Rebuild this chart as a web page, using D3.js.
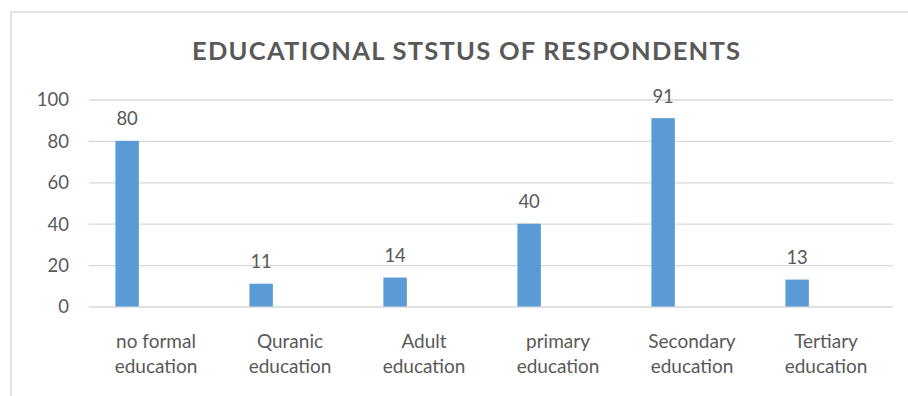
<!DOCTYPE html>
<html>
<head>
<meta charset="utf-8">
<script src="https://cdn.jsdelivr.net/npm/d3@7"></script>
<style>
  html, body { margin: 0; padding: 0; background: #fff; }
  svg { display: block; }
  text { font-family: Lato, "Liberation Sans", sans-serif; fill: #595959; }
</style>
</head>
<body>
<svg id="chart" width="908" height="396"></svg>
<script>
const title = "EDUCATIONAL STSTUS OF RESPONDENTS";
const categories = [
  ["no formal", "education"],
  ["Quranic", "education"],
  ["Adult", "education"],
  ["primary", "education"],
  ["Secondary", "education"],
  ["Tertiary", "education"]
];
const values = [80, 11, 14, 40, 91, 13];
const yTicks = [0, 20, 40, 60, 80, 100];

const svg = d3.select("#chart");
const W = 908, H = 396;
const plot = { left: 89, right: 893, top: 99.5, bottom: 306.5 };

// chart frame
svg.append("rect")
  .attr("x", 11).attr("y", 12)
  .attr("width", W + 20).attr("height", H + 20)
  .attr("fill", "none").attr("stroke", "#d9d9d9").attr("stroke-width", 1.5);

const x = d3.scaleBand()
  .domain(d3.range(categories.length))
  .range([plot.left, plot.right])
  .paddingInner(0).paddingOuter(0);

const y = d3.scaleLinear().domain([0, 100]).range([plot.bottom, plot.top]);

// gridlines
const yAxis = d3.axisLeft(y).tickValues(yTicks).tickSize(-(plot.right - plot.left)).tickPadding(20);
const gy = svg.append("g").attr("transform", `translate(${plot.left},0)`).call(yAxis);
gy.select(".domain").remove();
gy.selectAll(".tick line").attr("stroke", "#d9d9d9").attr("stroke-width", 1.3);
gy.selectAll(".tick text")
  .attr("font-family", "Lato, 'Liberation Sans', sans-serif")
  .attr("font-size", 18.5).attr("fill", "#595959").attr("dy", "0.35em");

// bars
const bw = x.bandwidth();
const barOff = bw * 0.197, barW = bw * 0.175;
svg.append("g").selectAll("rect").data(values).join("rect")
  .attr("x", (d, i) => x(i) + barOff)
  .attr("y", d => y(d))
  .attr("width", barW)
  .attr("height", d => y(0) - y(d))
  .attr("fill", "#5b9bd5");

// data labels
svg.append("g").selectAll("text").data(values).join("text")
  .attr("x", (d, i) => x(i) + barOff + barW / 2)
  .attr("y", d => y(d) - 15.5)
  .attr("text-anchor", "middle")
  .attr("font-size", 18.5)
  .text(d => d);

// category labels
const xl = svg.append("g").selectAll("text").data(categories).join("text")
  .attr("text-anchor", "middle")
  .attr("font-size", 19);
xl.each(function(lines, i) {
  const t = d3.select(this);
  lines.forEach((ln, j) => {
    t.append("tspan")
      .attr("x", x(i) + bw / 2)
      .attr("y", 348 + j * 25)
      .text(ln);
  });
});

// title
svg.append("text")
  .attr("x", 466).attr("y", 60)
  .attr("text-anchor", "middle")
  .attr("font-size", 25.5)
  .attr("font-weight", "bold")
  .attr("fill", "#595959")
  .attr("textLength", 548)
  .attr("lengthAdjust", "spacing")
  .text(title);
</script>
</body>
</html>
